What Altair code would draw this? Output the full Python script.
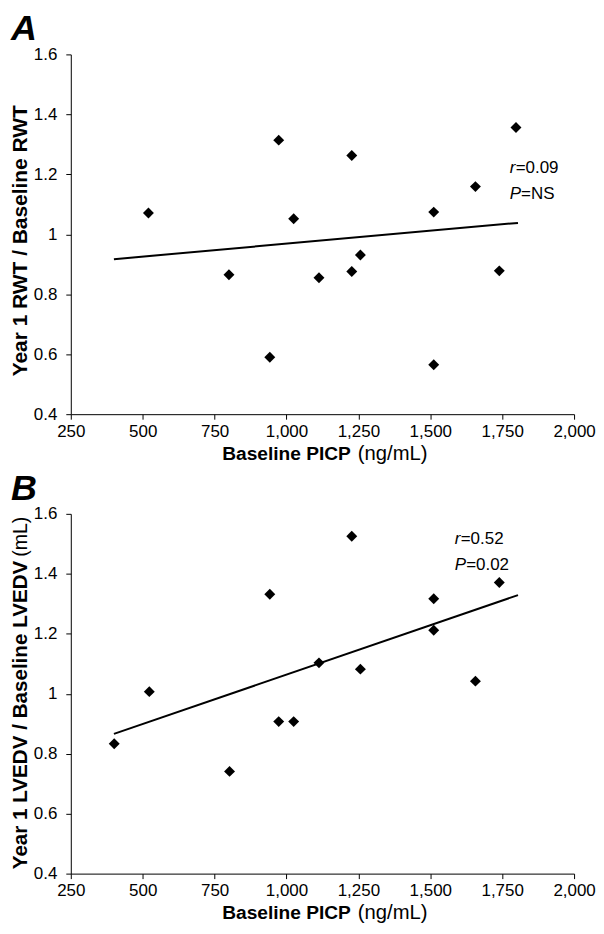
import altair as alt
import pandas as pd

FONT = "Liberation Sans"

# ---- Panel A data (Year 1 RWT / Baseline RWT) ----
a_x = [520, 800, 942, 973, 1025, 1113, 1227, 1227, 1257, 1512, 1512, 1657, 1740, 1798]
a_y = [1.071, 0.865, 0.590, 1.314, 1.052, 0.855, 1.263, 0.876, 0.931, 1.074, 0.565, 1.159, 0.878, 1.356]
a_trend_x = [400, 1805]
a_trend_y = [0.917, 1.038]
a_r = "=0.09"
a_p = "=NS"

# ---- Panel B data (Year 1 LVEDV / Baseline LVEDV) ----
b_x = [401, 523, 802, 942, 973, 1025, 1113, 1227, 1257, 1512, 1512, 1657, 1740]
b_y = [0.833, 1.007, 0.741, 1.332, 0.907, 0.907, 1.103, 1.525, 1.082, 1.317, 1.212, 1.042, 1.371]
b_trend_x = [400, 1805]
b_trend_y = [0.866, 1.329]
b_r = "=0.52"
b_p = "=0.02"

x_ticks = [250, 500, 750, 1000, 1250, 1500, 1750, 2000]
y_ticks = [0.4, 0.6, 0.8, 1.0, 1.2, 1.4, 1.6]

W, H = 505, 361


def panel(xs, ys, tx, ty, letter, ytitle_bold, ytitle_reg, r_txt, p_txt, ann_x, ann_y_r, ann_y_p):
    xscale = alt.Scale(domain=[250, 2000], nice=False, zero=False)
    yscale = alt.Scale(domain=[0.4, 1.6], nice=False, zero=False)
    xaxis = alt.Axis(values=x_ticks, format=",.0f", title=None, labelFlush=False)
    yaxis = alt.Axis(values=y_ticks, format="~g", title=None, labelFlush=False)

    pts = alt.Chart(pd.DataFrame({"x": xs, "y": ys})).mark_point(
        shape="diamond", filled=True, color="black", opacity=1, size=120
    ).encode(
        x=alt.X("x:Q", scale=xscale, axis=xaxis),
        y=alt.Y("y:Q", scale=yscale, axis=yaxis),
    )
    line = alt.Chart(pd.DataFrame({"x": tx, "y": ty})).mark_line(
        color="black", strokeWidth=2
    ).encode(x="x:Q", y="y:Q")

    ann = pd.DataFrame({"x": [ann_x, ann_x], "y": [ann_y_r, ann_y_p],
                        "it": ["r", "P"], "rest": [r_txt, p_txt]})
    ann_it = alt.Chart(ann).mark_text(
        font=FONT, fontSize=17, fontStyle="italic", align="left", baseline="alphabetic", color="black"
    ).encode(x="x:Q", y="y:Q", text="it:N")
    ann_r1 = alt.Chart(ann.iloc[[0]]).mark_text(
        font=FONT, fontSize=17, align="left", baseline="alphabetic", color="black", dx=6
    ).encode(x="x:Q", y="y:Q", text="rest:N")
    ann_r2 = alt.Chart(ann.iloc[[1]]).mark_text(
        font=FONT, fontSize=17, align="left", baseline="alphabetic", color="black", dx=11.5
    ).encode(x="x:Q", y="y:Q", text="rest:N")

    letter_t = alt.Chart(pd.DataFrame({"t": [letter]})).mark_text(
        font=FONT, fontSize=36, fontWeight="bold", fontStyle="italic", align="left",
        baseline="alphabetic", color="black"
    ).encode(x=alt.value(-60), y=alt.value(-14), text="t:N")

    xt_b = alt.Chart(pd.DataFrame({"t": ["Baseline PICP"]})).mark_text(
        font=FONT, fontSize=19.2, fontWeight="bold", align="right", baseline="alphabetic", color="black"
    ).encode(x=alt.value(281), y=alt.value(407), text="t:N")
    xt_r = alt.Chart(pd.DataFrame({"t": ["(ng/mL)"]})).mark_text(
        font=FONT, fontSize=20.3, align="left", baseline="alphabetic", color="black"
    ).encode(x=alt.value(288), y=alt.value(407), text="t:N")

    layers = [line, pts, ann_it, ann_r1, ann_r2, letter_t, xt_b, xt_r]
    if ytitle_reg:
        yt_b = alt.Chart(pd.DataFrame({"t": [ytitle_bold]})).mark_text(
            font=FONT, fontSize=20.7, fontWeight="bold", angle=270, align="right",
            baseline="middle", color="black"
        ).encode(x=alt.value(-50), y=alt.value(47), text="t:N")
        yt_r = alt.Chart(pd.DataFrame({"t": [ytitle_reg]})).mark_text(
            font=FONT, fontSize=19.5, angle=270, align="left",
            baseline="middle", color="black"
        ).encode(x=alt.value(-50), y=alt.value(43), text="t:N")
        layers += [yt_b, yt_r]
    else:
        yt_b = alt.Chart(pd.DataFrame({"t": [ytitle_bold]})).mark_text(
            font=FONT, fontSize=21, fontWeight="bold", angle=270, align="center",
            baseline="middle", color="black"
        ).encode(x=alt.value(-50), y=alt.value(187), text="t:N")
        layers += [yt_b]

    return alt.layer(*layers).properties(width=W, height=H)


pa = panel(a_x, a_y, a_trend_x, a_trend_y, "A", "Year 1 RWT / Baseline RWT", None,
           a_r, a_p, 1776, 1.204, 1.118)
pb = panel(b_x, b_y, b_trend_x, b_trend_y, "B", "Year 1 LVEDV / Baseline LVEDV", "(mL)",
           b_r, b_p, 1585, 1.498, 1.412)

chart = alt.vconcat(pa, pb, spacing=6).properties(
    padding={"left": 1, "top": 2, "right": 0, "bottom": 0}
).configure_view(stroke=None).configure_axis(
    grid=False, domainColor="black", domainWidth=1, tickColor="black", tickSize=5,
    labelColor="black", labelFont=FONT, labelFontSize=17, labelPadding=4,
).configure_axisY(labelPadding=9)

chart.save("out.html", embed_options={"renderer": "svg", "actions": False})
